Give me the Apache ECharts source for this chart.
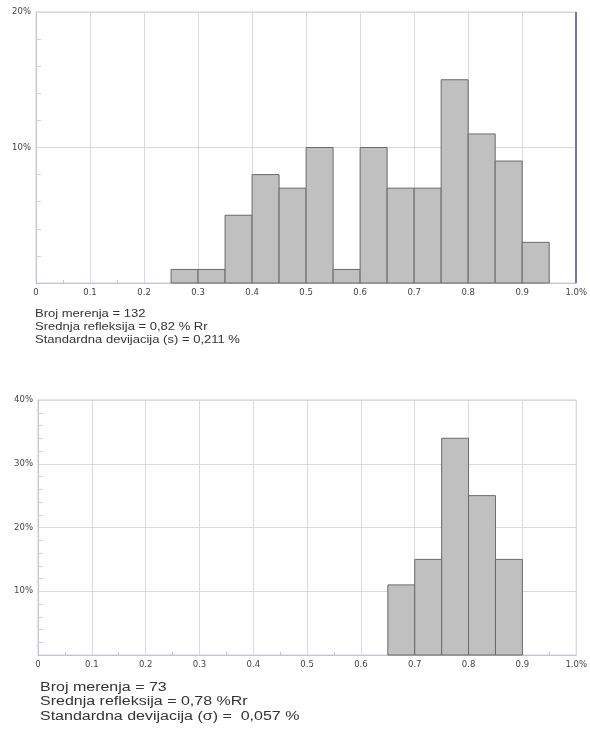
<!DOCTYPE html>
<html><head><meta charset="utf-8">
<script src="https://cdn.jsdelivr.net/npm/echarts@6/dist/echarts.min.js"></script>
<style>html,body{margin:0;padding:0;background:#fff}#c{width:590px;height:729px}</style>
</head><body><div id="c"></div>
<script>
// ---- data ----
const binWidth = 0.05;
const binStartTop = [0.25,0.30,0.35,0.40,0.45,0.50,0.55,0.60,0.65,0.70,0.75,0.80,0.85,0.90];
const valuesTop   = [1,1,5,8,7,10,1,10,7,7,15,11,9,3];
const binStartBottom = [0.65,0.70,0.75,0.80,0.85];
const valuesBottom   = [11,15,34,25,15];
const xTickLabels = ['0','0.1','0.2','0.3','0.4','0.5','0.6','0.7','0.8','0.9','1.0%'];
const statsTop = ['Broj merenja = 132','Srednja refleksija = 0,82 % Rr','Standardna devijacija (s) = 0,211 %'];
const statsBottom = ['Broj merenja = 73','Srednja refleksija = 0,78 %Rr','Standardna devijacija (\u03c3) =  0,057 %'];

const chart = echarts.init(document.getElementById('c'), null, {renderer:'canvas'});

function renderHist(params, api){
  const x0 = api.value(0), v = api.value(1);
  const p0 = api.coord([x0, 0]);
  const p1 = api.coord([x0 + binWidth, v]);
  return {type:'rect',
    shape:{x:p0[0], y:p1[1], width:p1[0]-p0[0], height:p0[1]-p1[1]},
    style:{fill:'#c0c0c0', stroke:'#6a6a6a', lineWidth:1}};
}

const axisCol = '#c4c4d6', splitCol = '#d8d8e6';
function xAxisCfg(gi){
  return {gridIndex:gi, type:'value', min:0, max:1, interval:0.1,
    axisLine:{show:true, lineStyle:{color:axisCol}},
    axisTick:{show:false, inside:true},
    minorTick:{show:true, splitNumber:2, length:3, lineStyle:{color:axisCol}},
    splitLine:{show:true, lineStyle:{color:splitCol}},
    axisLabel:{margin:5, fontFamily:'DejaVu Sans', fontSize:8.5, color:'#444',
      formatter:v=>xTickLabels[Math.round(v*10)]}};
}
function yAxisCfg(gi, max){
  return {gridIndex:gi, type:'value', min:0, max:max, interval:10,
    axisLine:{show:true, lineStyle:{color:axisCol}},
    axisTick:{show:false, inside:true},
    minorTick:{show:true, splitNumber:5, length:5, lineStyle:{color:'#d0d0de'}},
    splitLine:{show:true, lineStyle:{color:splitCol}},
    axisLabel:{margin:5, fontFamily:'DejaVu Sans', fontSize:8.5, color:'#444',
      formatter:v=> v===0 ? '' : v+'%'}};
}

function statText(lines, x, y0, step, size, sx){
  return lines.map((t,i)=>({type:'text', left:x, top:y0 + i*step, scaleX:sx,
    style:{text:t, fontFamily:'Liberation Sans, Arial', fontSize:size, fill:'#333'}}));
}

chart.setOption({
  animation:false,
  backgroundColor:'#fff',
  grid:[
    {left:36, top:12, width:541, height:271, show:true, borderColor:'#d0d0de', backgroundColor:'#fff'},
    {left:38, top:400, width:541, height:255, show:true, borderColor:'#d0d0de', backgroundColor:'#fff'}
  ],
  xAxis:[xAxisCfg(0), xAxisCfg(1)],
  yAxis:[yAxisCfg(0,20), yAxisCfg(1,40)],
  graphic: statText(statsTop, 35, 309, 13, 10.5, 1.24).concat(statText(statsBottom, 40, 681, 14.5, 12.5, 1.28)),
  series:[
    {type:'custom', xAxisIndex:0, yAxisIndex:0, renderItem:renderHist,
      encode:{x:0, y:1}, data:binStartTop.map((b,i)=>[b, valuesTop[i]]),
      markLine:{silent:true, symbol:'none', label:{show:false},
        lineStyle:{color:'#8470a8', width:2, type:'solid'}, data:[{xAxis:1}]}},
    {type:'custom', xAxisIndex:1, yAxisIndex:1, renderItem:renderHist,
      encode:{x:0, y:1}, data:binStartBottom.map((b,i)=>[b, valuesBottom[i]])}
  ]
});
</script></body></html>
